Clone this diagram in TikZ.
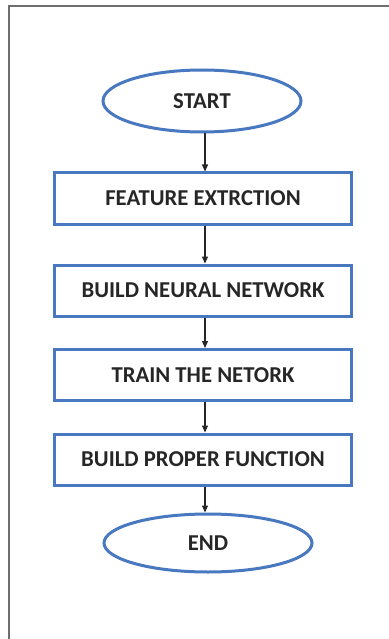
\documentclass[tikz,border=0pt]{standalone}
\usepackage{fontspec}
\setmainfont{Carlito}
\usetikzlibrary{shapes.geometric,arrows.meta}
\definecolor{boxblue}{RGB}{72,120,192}
\definecolor{framegray}{RGB}{110,110,110}
\tikzset{
  stepbox/.style={draw=boxblue, line width=3pt, minimum width=297pt, minimum height=51pt, inner sep=0pt, font=\bfseries\fontsize{22.7}{24}\selectfont, text=black!85},
  terminal/.style={draw=boxblue, line width=3pt, ellipse, inner sep=0pt, font=\bfseries\fontsize{22.7}{24}\selectfont, text=black!85},
  flow/.style={-{Triangle[length=7pt,width=6pt]}, line width=1.2pt, black!85}
}
\begin{document}
\begin{tikzpicture}[x=1pt,y=-1pt]
\useasboundingbox (0,0) rectangle (388,639);
\draw[framegray, line width=2pt] (9,640) -- (9,6) -- (389,6);
\node[terminal, minimum width=198pt, minimum height=62pt] (start) at (202,101) {START};
\node[stepbox] (s1) at (203,198.5) {FEATURE EXTRCTION};
\node[stepbox] (s2) at (203,290.5) {BUILD NEURAL NETWORK};
\node[stepbox] (s3) at (203,375) {TRAIN THE NETORK};
\node[stepbox] (s4) at (203,459.5) {BUILD PROPER FUNCTION};
\node[terminal, minimum width=208pt, minimum height=58pt] (end) at (208,543) {END};
\draw[flow] (start.south -| 205,0) -- (s1.north -| 205,0);
\draw[flow] (s1.south -| 205,0) -- (s2.north -| 205,0);
\draw[flow] (s2.south -| 205,0) -- (s3.north -| 205,0);
\draw[flow] (s3.south -| 205,0) -- (s4.north -| 205,0);
\draw[flow] (s4.south -| 205,0) -- (end.north -| 205,0);
\end{tikzpicture}
\end{document}
